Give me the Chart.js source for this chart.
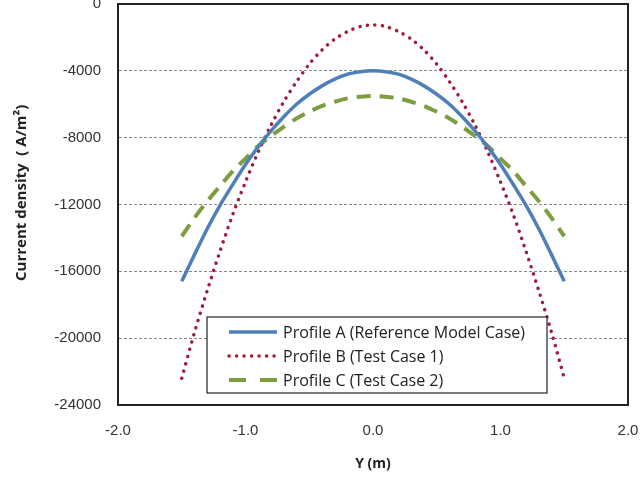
<!DOCTYPE html>
<html>
<head>
<meta charset="utf-8">
<script src="https://cdn.jsdelivr.net/npm/chart.js@4/dist/chart.umd.min.js"></script>
<style>
  html, body { margin: 0; padding: 0; background: #fff; }
  #wrap { width: 641px; height: 479px; position: relative; }
</style>
</head>
<body>
<div id="wrap"><canvas id="myChart"></canvas></div>
<script>
// positions across the width (m)
const yPos = [-1.5, -1.4, -1.3, -1.2, -1.1, -1.0, -0.9, -0.8, -0.7, -0.6, -0.5, -0.4, -0.3, -0.2, -0.1, 0.0,
              0.1, 0.2, 0.3, 0.4, 0.5, 0.6, 0.7, 0.8, 0.9, 1.0, 1.1, 1.2, 1.3, 1.4, 1.5];

// current density (A/m2)
const profileA = [-16600, -15000, -13450, -12050, -10800, -9600, -8550, -7600, -6750, -6000, -5400, -4900, -4500, -4200, -4050, -4000,
                  -4050, -4200, -4500, -4900, -5400, -6000, -6750, -7600, -8550, -9600, -10800, -12050, -13450, -15000, -16600];
const profileB = [-22400, -19650, -17150, -14800, -12600, -10650, -8850, -7250, -5850, -4650, -3600, -2750, -2100, -1650, -1350, -1250,
                  -1350, -1650, -2100, -2750, -3600, -4650, -5850, -7250, -8850, -10650, -12600, -14800, -17150, -19650, -22400];
const profileC = [-13900, -12800, -11800, -10900, -10000, -9250, -8500, -7900, -7350, -6850, -6450, -6100, -5850, -5650, -5550, -5500,
                  -5550, -5650, -5850, -6100, -6450, -6850, -7350, -7900, -8500, -9250, -10000, -10900, -11800, -12800, -13900];

const seriesNames = ['Profile A (Reference Model Case)', 'Profile B (Test Case 1)', 'Profile C (Test Case 2)'];
const xTicks = [-2.0, -1.0, 0.0, 1.0, 2.0];
const yTicks = [0, -4000, -8000, -12000, -16000, -20000, -24000];

function toPoints(vals) {
    return vals.map((v, i) => ({x: yPos[i], y: v}));
}

// draw the legend box inside the plot, like the excel one
const boxLegend = {
    id: 'boxLegend',
    afterDraw(chart) {
        const ctx = chart.ctx;
        const bx = 207, by = 317, bw = 340, bh = 76;
        ctx.save();
        ctx.fillStyle = '#fff';
        ctx.fillRect(bx, by, bw, bh);
        ctx.strokeStyle = '#222';
        ctx.lineWidth = 1.2;
        ctx.strokeRect(bx, by, bw, bh);
        const rows = [332, 356, 380];
        chart.data.datasets.forEach((ds, i) => {
            ctx.beginPath();
            ctx.strokeStyle = ds.borderColor;
            ctx.lineWidth = ds.borderWidth;
            ctx.lineCap = ds.borderCapStyle || 'butt';
            ctx.setLineDash(ds.legendDash || ds.borderDash || []);
            ctx.moveTo(229, rows[i]);
            ctx.lineTo(277, rows[i]);
            ctx.stroke();
            ctx.setLineDash([]);
            ctx.fillStyle = '#222';
            ctx.font = '16px "Open Sans"';
            ctx.textBaseline = 'middle';
            ctx.fillText(ds.label, 283, rows[i] + 1);
        });
        ctx.restore();
    }
};

const ctx = document.getElementById('myChart');
new Chart(ctx, {
    type: 'scatter',
    data: {
        datasets: [{
            label: seriesNames[0],
            data: toPoints(profileA),
            showLine: true,
            borderColor: '#4f7fb8',
            borderWidth: 3.5,
            pointRadius: 0,
            tension: 0.3
        }, {
            label: seriesNames[1],
            data: toPoints(profileB),
            showLine: true,
            borderColor: '#9e2038',
            borderWidth: 3.5,
            borderDash: [0.1, 7.4],
            borderCapStyle: 'round',
            pointRadius: 0,
            tension: 0.3
        }, {
            label: seriesNames[2],
            data: toPoints(profileC),
            showLine: true,
            borderColor: '#7e9c40',
            borderWidth: 4,
            borderDash: [14, 9],
            legendDash: [17, 14],
            pointRadius: 0,
            tension: 0.3
        }]
    },
    options: {
        responsive: true,
        maintainAspectRatio: false,
        animation: false,
        layout: {padding: {top: 4, right: 13, left: 0, bottom: 0}},
        plugins: {
            legend: {display: false},
            tooltip: {enabled: false}
        },
        scales: {
            x: {
                type: 'linear',
                min: -2, max: 2,
                afterBuildTicks: axis => { axis.ticks = xTicks.map(v => ({value: v})); },
                afterFit: axis => { axis.height = 74; axis.paddingLeft = 0; axis.paddingRight = 0; },
                grid: {display: false, drawTicks: false},
                border: {display: true, color: '#222', width: 2},
                ticks: {
                    padding: 17,
                    color: '#333',
                    font: {family: 'Liberation Sans', size: 15},
                    callback: v => v.toFixed(1)
                },
                title: {
                    display: true,
                    text: 'Y (m)',
                    color: '#222',
                    font: {family: 'Open Sans', size: 14, weight: 'bold'},
                    padding: {top: 0, bottom: 7}
                }
            },
            y: {
                min: -24000, max: 0,
                afterBuildTicks: axis => { axis.ticks = yTicks.map(v => ({value: v})); },
                afterFit: axis => { axis.width = 118; axis.paddingTop = 0; axis.paddingBottom = 0; },
                grid: {
                    color: '#8a8a8a',
                    lineWidth: 1,
                    drawTicks: false
                },
                border: {display: true, color: '#222', width: 2, dash: [3, 2]},
                ticks: {
                    padding: 17,
                    color: '#333',
                    font: {family: 'Liberation Sans', size: 15},
                    callback: v => String(v)
                },
                title: {
                    display: true,
                    text: '\u00a0\u00a0\u00a0\u00a0\u00a0\u00a0Current density  ( A/m\u00b2)',
                    color: '#222',
                    font: {family: 'Open Sans', size: 15, weight: 'bold'},
                    padding: {top: 13, bottom: 0}
                }
            }
        }
    },
    plugins: [boxLegend, {
        // solid black frame round the plot
        id: 'frame',
        beforeDatasetsDraw(chart) {
            const a = chart.chartArea;
            const c = chart.ctx;
            c.save();
            c.strokeStyle = '#222';
            c.lineWidth = 2;
            c.strokeRect(a.left, a.top, a.right - a.left, a.bottom - a.top);
            c.restore();
        }
    }]
});
</script>
</body>
</html>
